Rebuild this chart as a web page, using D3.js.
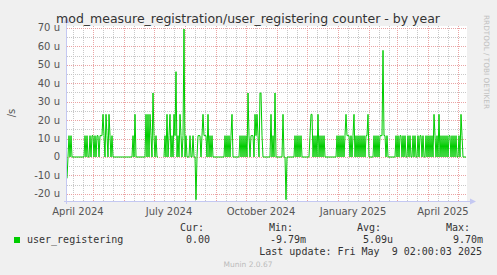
<!DOCTYPE html>
<html lang="en">
<head>
<meta charset="utf-8">
<title>user_registering counter - by year</title>
<script src="https://cdn.jsdelivr.net/npm/d3@7"></script>
<style>
  body { margin: 0; background: #f0f0f0; }
  svg { display: block; }
  .tick-label { font-family: "DejaVu Sans", sans-serif; font-size: 10px; fill: #555; }
  .mono { font-family: "DejaVu Sans Mono", monospace; font-size: 10px; fill: #333; }
</style>
</head>
<body>
<div id="chart"></div>
<script>
// period shown: 400 days ending May 2025
var startDate = new Date(2024, 3, 5);
var endDate = new Date(2025, 4, 10);

// registrations per day (one value per day from startDate), null = no data
var perDay = [
  -1, 0, 1, 0, 1, 0, 0, 0, 0, 0, 0, 0, 0, 0, 0, 0, 0, 0,
  1, 0, 1, 0, 0, 1, 0, 1, 1, 0, 1, 0, 1, 1, 0, 1, 1, 1,
  2, 1, 0, 2, 1, 0, 2, 1, 0, 1, 0,
  0, 0, 0, 0, 0, 0, 0, 0, 0, 0, 0, 0, 0, 0, 0, 0, 0, 0, 0,
  1, 0, 2, 0, 0, 0, 0, 0, 0, 0, 0, 0, 0,
  2, 0, 2, 0, 2, 1, 0, 3, 1, 0, 1, 0, 0,
  null, null, null, null, null,
  0, 1, 0, 2, 0, 1, 2, 0, 1, 0, 2, 1, 4,
  0, 1, 0, 2, 1, 0, 1, 6, 0, 1, 0, 0, 0, 1, 0, 0, 1, 0, 0, -2, 0, 1, 1,
  1, 0, 1, 2, 1, 1, 1, 0, 2, 0, 1, 0, 1,
  0, 0, 0, 0, 0, 0, 0, 0, 0, 0, 0, 0,
  1, 0, 1, 0, 1, 0, 1, 2, 0, 0, 0, 0, 0, 0, 0,
  1, 0, 1, 0, 1, 0, 1, 0, 3, 1, 0, 1, 1, 1, 0, 2, 1, 2, 1, 0, 3, 3, 1,
  0, 0, 0, 0, 0, 0, 0, 0,
  2, 0, 1, 0, 3, 0, 0, 0, 0, 0, 0, 0,
  2, 0, 0, -2, 0, 0, 0, 0, 0, 0, 0, 0,
  1, 0, 1, 0, 1, 0, 1, 0, 0, 0, 0, 0, 0, 0, 0,
  1, 2, 2, 0, 1, 0, 1, 0, 2, 0, 1, 0, 1, 0, 1,
  0, 0, 0, 0, 0, 0, 0, 0, 0, 0, 0, 0,
  1, 0, 1, 0, 1, 0, 1, 0, 1, 2, 1, 1, 1, 0, 1, 0, 1, 2, 0, 1, 0, 1, 0, 1, 0, 1, 0, 1, 0, 1, 1, 2,
  0, 0, 0, 0, 0,
  1, 0, 1, 0, 1, 0, 1, 1, 1, 5, 1, 1, 0, 1, 0,
  0, 0, 0, 0, 0, 0, 0,
  1, 0, 1, 0, 1, 1, 0, 1, 0, 1, 0, 0, 1, 0, 1, 0, 0, 1, 0, 1, 0, 0, 1, 0, 1, 1, 0, 1, 0, 0,
  1, 0, 1, 0, 1, 0, 1, 0, 2, 1, 0, 1, 0, 2, 0, 1, 0, 1, 0, 1, 0, 1, 0, 1, 1, 0, 1, 0, 1, 0,
  1, 0, 0, 1, 0, 2, 1,
  0, 0, 0, 0
];

var yTicks = [-20, -10, 0, 10, 20, 30, 40, 50, 60, 70];   // micro per second
var yTickLabels = ["-20 u", "-10 u", "0", "10 u", "20 u", "30 u", "40 u", "50 u", "60 u", "70 u"];
var xLabelMonths = [new Date(2024, 3, 1), new Date(2024, 6, 1), new Date(2024, 9, 1), new Date(2025, 0, 1), new Date(2025, 3, 1)];
var xLabels = ["April 2024", "July 2024", "October 2024", "January 2025", "April 2025"];
var legendName = "user_registering";
var legendHeads = ["Cur:", "Min:", "Avg:", "Max:"];
var legendValues = ["0.00", "-9.79m", "5.09u", "9.70m"];

var W = 497, H = 275;
var pLeft = 67, pRight = 467, pTop = 26, pBottom = 201;

var svg = d3.select("#chart").append("svg")
    .attr("width", W)
    .attr("height", H);

svg.append("rect").attr("width", W).attr("height", H).attr("fill", "#f0f0f0");
svg.append("rect")
    .attr("x", pLeft).attr("y", pTop)
    .attr("width", pRight - pLeft).attr("height", pBottom - pTop)
    .attr("fill", "#fff");

var x = d3.scaleTime().domain([startDate, endDate]).range([pLeft, pRight]);
var y = d3.scaleLinear().domain([-23.88e-6, 71.08e-6]).range([pBottom, pTop]);

function vline(d, col) {
    var px = Math.round(x(d)) + 0.5;
    grid.append("line")
        .attr("x1", px).attr("x2", px).attr("y1", pTop).attr("y2", pBottom)
        .attr("stroke", col).attr("stroke-dasharray", "1,1");
}
function hline(v, col) {
    var py = Math.round(y(v * 1e-6)) + 0.5;
    grid.append("line")
        .attr("x1", pLeft).attr("x2", pRight).attr("y1", py).attr("y2", py)
        .attr("stroke", col).attr("stroke-dasharray", "1,1");
}

// grid: minor first, major on top
var grid = svg.append("g").attr("shape-rendering", "crispEdges");
var minorCol = "#c8c8c8", majorCol = "#eaa4a4";
d3.range(-20, 71, 5).filter(function (v) { return v % 10 != 0; }).forEach(function (v) { hline(v, minorCol); });
var months = d3.timeMonth.range(startDate, endDate);
[new Date(2024, 3, 1)].concat(months).forEach(function (m) {
    [10, 20].forEach(function (o) {
        var d = d3.timeDay.offset(m, o);
        if (d > startDate && d < endDate) vline(d, minorCol);
    });
});
yTicks.forEach(function (v) { hline(v, majorCol); });
months.forEach(function (m) { vline(m, majorCol); });

// y labels
svg.selectAll(".ylab")
    .data(yTicks)
    .enter().append("text")
    .attr("class", "tick-label")
    .attr("x", 60)
    .attr("y", function (d) { return y(d * 1e-6) + 3.5; })
    .attr("text-anchor", "end")
    .text(function (d, i) { return yTickLabels[i]; });

// x labels, centred half a month after the month start
svg.selectAll(".xlab")
    .data(xLabelMonths)
    .enter().append("text")
    .attr("class", "tick-label")
    .attr("x", function (d) { return x(d3.timeDay.offset(d, 15)); })
    .attr("y", 215)
    .attr("text-anchor", "middle")
    .text(function (d, i) { return xLabels[i]; });

// data line
var line = d3.line()
    .defined(function (d) { return d != null; })
    .x(function (d, i) { return x(d3.timeDay.offset(startDate, i)); })
    .y(function (d) { return y(d / 86400); });

svg.append("path")
    .datum(perDay)
    .attr("fill", "none")
    .attr("stroke", "#00cc00")
    .attr("stroke-width", 1)
    .attr("d", line);

// axes with arrows
var axisCol = "#c4c8f2";
svg.append("line").attr("x1", pLeft - 0.5).attr("x2", pLeft - 0.5).attr("y1", pBottom + 3).attr("y2", pTop - 4)
    .attr("stroke", axisCol);
svg.append("line").attr("x1", pLeft - 3).attr("x2", pRight + 3).attr("y1", pBottom + 0.5).attr("y2", pBottom + 0.5)
    .attr("stroke", axisCol);
svg.append("path").attr("d", "M" + (pLeft - 3.5) + "," + (pTop - 3) + "L" + (pLeft - 0.5) + "," + (pTop - 9) + "L" + (pLeft + 2.5) + "," + (pTop - 3) + "Z")
    .attr("fill", axisCol);
svg.append("path").attr("d", "M" + (pRight + 3) + "," + (pBottom - 2.5) + "L" + (pRight + 9) + "," + (pBottom + 0.5) + "L" + (pRight + 3) + "," + (pBottom + 3.5) + "Z")
    .attr("fill", axisCol);

// title
svg.append("text")
    .attr("x", 248).attr("y", 23)
    .attr("text-anchor", "middle")
    .style("font-family", "'DejaVu Sans', sans-serif")
    .style("font-size", "12.5px")
    .attr("fill", "#333")
    .text("mod_measure_registration/user_registering counter - by year");

// vertical unit label
svg.append("text")
    .attr("transform", "translate(15,113) rotate(-90)")
    .attr("text-anchor", "middle")
    .attr("class", "tick-label")
    .text("/s");

svg.append("text")
    .attr("transform", "translate(484,15) rotate(90)")
    .style("font-family", "'DejaVu Sans', sans-serif")
    .style("font-size", "7.3px")
    .attr("fill", "#c0c0c0")
    .text("RRDTOOL / TOBI OETIKER");

// legend
var headX = [204, 293, 381, 470];
var valX = [210, 306, 393, 483];
svg.selectAll(".lhead")
    .data(legendHeads)
    .enter().append("text")
    .attr("class", "mono")
    .attr("x", function (d, i) { return headX[i]; })
    .attr("y", 231)
    .attr("text-anchor", "end")
    .text(function (d) { return d; });

svg.append("rect").attr("x", 14).attr("y", 237).attr("width", 6).attr("height", 6).attr("fill", "#00cc00");
svg.append("text").attr("class", "mono").attr("x", 27).attr("y", 243).text(legendName);

svg.selectAll(".lval")
    .data(legendValues)
    .enter().append("text")
    .attr("class", "mono")
    .attr("x", function (d, i) { return valX[i]; })
    .attr("y", 243)
    .attr("text-anchor", "end")
    .text(function (d) { return d; });

svg.append("text")
    .attr("class", "mono")
    .attr("x", 482).attr("y", 255)
    .attr("text-anchor", "end")
    .style("white-space", "pre")
    .text("Last update: Fri May  9 02:00:03 2025");

svg.append("text")
    .attr("x", 248).attr("y", 267)
    .attr("text-anchor", "middle")
    .style("font-family", "'DejaVu Sans', sans-serif")
    .style("font-size", "7.5px")
    .attr("fill", "#bbb")
    .text("Munin 2.0.67");
</script>
</body>
</html>
